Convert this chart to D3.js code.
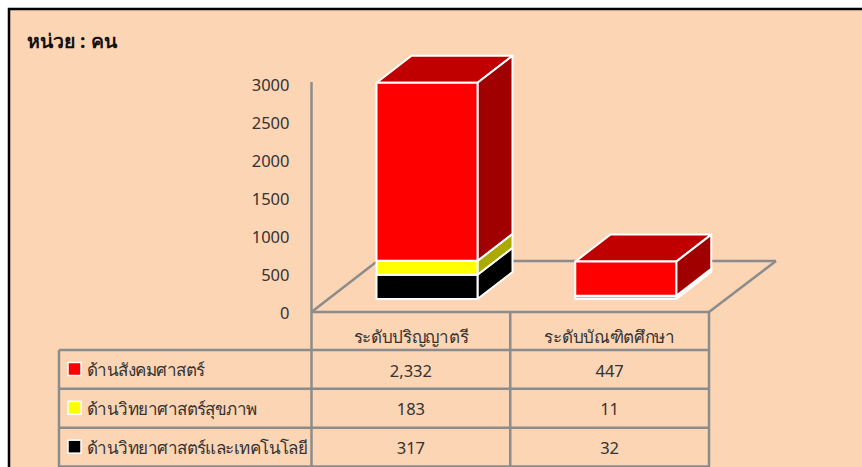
<!DOCTYPE html>
<html><head><meta charset="utf-8">
<script src="https://cdn.jsdelivr.net/npm/d3@7"></script>
<style>html,body{margin:0;padding:0;background:#fff;overflow:hidden}svg{display:block}text{font-family:"Noto Sans","DejaVu Sans",sans-serif}</style>
</head><body><svg id="c" width="862" height="467"></svg>
<script>
const categories = ["ระดับปริญญาตรี", "ระดับบัณฑิตศึกษา"];
const seriesNames = ["ด้านสังคมศาสตร์", "ด้านวิทยาศาสตร์สุขภาพ", "ด้านวิทยาศาสตร์และเทคโนโลยี"];
const socialValues = [2332, 447];
const healthValues = [183, 11];
const techValues = [317, 32];
const tableLabels = [["2,332", "447"], ["183", "11"], ["317", "32"]];
const yTicks = [0, 500, 1000, 1500, 2000, 2500, 3000];
const frontColors = ["#ff0000", "#ffff00", "#000000"];
const sideColors = ["#a00000", "#aaaa00", "#000000"];
const topColors = ["#c00000", "#cccc00", "#000000"];
const unitTitle = "หน่วย : คน";

const svg = d3.select("#c");
const grid = "#8c8c8c", ink = "#333333";
svg.append("rect").attr("x", 9).attr("y", 9).attr("width", 880).attr("height", 480)
  .attr("fill", "#fcd5b5").attr("stroke", "#000").attr("stroke-width", 2.5);
svg.append("text").attr("x", 27).attr("y", 48).attr("font-size", 19.5).attr("font-weight", 700)
  .attr("fill", "#111").text(unitTitle);

const plotL = 311.5, plotR = 709, floorY = 312, depthX = 66, depthY = -51;
const x = d3.scaleBand().domain(categories).range([plotL, plotR]);
const yAxisScale = d3.scaleLinear().domain([0, 3000]).range([floorY + 1, 85.5]);
const yBar = d3.scaleLinear().domain([0, 3000]).range([299, 70]);

// axis labels
const ax = svg.append("g").attr("transform", `translate(${plotL - 22},0)`)
  .call(d3.axisLeft(yAxisScale).tickValues(yTicks).tickSize(0).tickPadding(0).tickFormat(d3.format("d")));
ax.select(".domain").remove();
ax.selectAll("text").attr("font-size", 16.5).attr("fill", ink).style("font-family", '"Noto Sans"');

// walls and floor
const line = (x1, y1, x2, y2) => svg.append("line").attr("x1", x1).attr("y1", y1).attr("x2", x2).attr("y2", y2)
  .attr("stroke", grid).attr("stroke-width", 2.5);
line(plotL, floorY, plotL, 82);
line(plotL, floorY, plotL + depthX, floorY + depthY);
line(plotL + depthX, floorY + depthY, plotR + depthX + 1, floorY + depthY);
line(plotR, floorY, plotR + depthX + 1, floorY + depthY);

// stacked 3D bars (bottom series first)
const rows = categories.map((c, i) => ({ c, social: socialValues[i], health: healthValues[i], tech: techValues[i] }));
const stack = d3.stack().keys(["tech", "health", "social"])(rows);
const colorIdx = { tech: 2, health: 1, social: 0 };
const barW = 101, offX = 35, offY = -27, barInset = 65;
const poly = (pts, fill) => svg.append("polygon").attr("points", pts.map(p => p.join(",")).join(" "))
  .attr("fill", fill).attr("stroke", "#fff").attr("stroke-width", 2).attr("stroke-linejoin", "round");
stack.forEach(layer => {
  const k = colorIdx[layer.key];
  layer.forEach(d => {
    const L = x(d.data.c) + barInset, R = L + barW;
    const T = yBar(d[1]), B = yBar(d[0]);
    poly([[L, T], [L + offX, T + offY], [R + offX, T + offY], [R, T]], topColors[k]);
    poly([[R, T], [R + offX, T + offY], [R + offX, B + offY], [R, B]], sideColors[k]);
    poly([[L, T], [R, T], [R, B], [L, B]], frontColors[k]);
  });
});

// data table
const rowY = d3.scalePoint().domain(d3.range(4)).range([350, 466.5]);
const tableL = 59;
line(plotL, floorY, plotL, 467);
categories.forEach(c => line(x(c) + x.bandwidth(), floorY, x(c) + x.bandwidth(), 467));
line(plotL, floorY, plotR, floorY);
d3.range(4).forEach(i => line(tableL, rowY(i), plotR, rowY(i)));
line(tableL, rowY(0), tableL, 467);

const cell = (tx, ty, s, anchor, size, spacing) => svg.append("text").attr("x", tx).attr("y", ty)
  .attr("font-size", size).attr("letter-spacing", spacing)
  .attr("fill", ink).attr("text-anchor", anchor).attr("dominant-baseline", "alphabetic").text(s);
categories.forEach(c => cell(x(c) + x.bandwidth() / 2, 343, c, "middle", 17, "-0.3px"));
seriesNames.forEach((n, i) => {
  const yy = rowY(i);
  svg.append("rect").attr("x", 68).attr("y", yy + 12.5).attr("width", 13).attr("height", 13)
    .attr("fill", frontColors[i]).attr("stroke", "#fff").attr("stroke-width", 1.5);
  cell(87, yy + 26, n, "start", 17, "-0.55px");
  categories.forEach((c, j) => cell(x(c) + x.bandwidth() / 2, yy + 26.5, tableLabels[i][j], "middle", 16.5, null));
});
</script></body></html>
